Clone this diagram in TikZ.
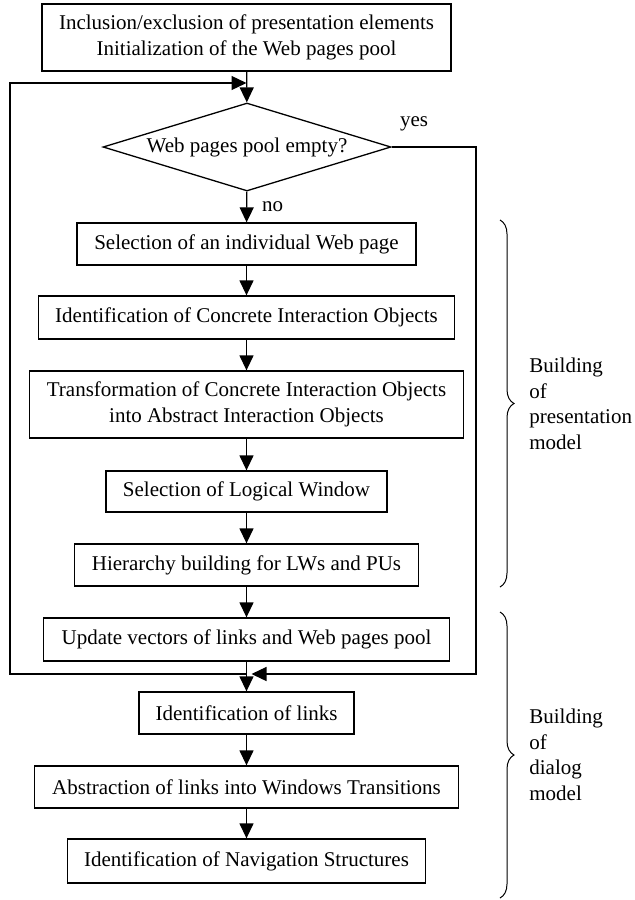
\documentclass[tikz,border=0pt]{standalone}
\usepackage{fontspec}
\setmainfont{Liberation Serif}
\usetikzlibrary{arrows.meta, shapes.geometric, decorations.pathreplacing}

\begin{document}
\begin{tikzpicture}[
    x=0.5pt, y=-0.5pt,
    font=\fontsize{10.5}{12.75}\selectfont,
    stage/.style={rectangle, draw, line width=0.65pt, inner sep=0pt, align=center},
    decision/.style={diamond, draw, line width=0.65pt, inner sep=0pt, aspect=3.27},
    flow/.style={-{Triangle[length=7.5pt, width=7pt]}, line width=0.65pt},
    wire/.style={line width=0.65pt},
    curly/.style={decorate, decoration={brace, amplitude=7pt}, line width=0.5pt},
    phase/.style={align=left, anchor=west, inner sep=0pt}
]
\useasboundingbox (0,0) rectangle (634,900);

% Initial step and loop test
\node[stage, minimum width=204.5pt, minimum height=33.5pt] (init) at (246.5, 37.5)
    {Inclusion/exclusion of presentation elements\\Initialization of the Web pages pool};
\node[decision, minimum width=144pt, minimum height=44pt] (empty) at (247, 147)
    {Web pages pool empty?};

% Presentation model steps
\node[stage, minimum width=169.5pt, minimum height=21pt] (selpage) at (246.5, 244)
    {Selection of an individual Web page};
\node[stage, minimum width=208pt, minimum height=21.5pt] (identcio) at (246.5, 317.5)
    {Identification of Concrete Interaction Objects};
\node[stage, minimum width=217pt, minimum height=33.5pt] (transf) at (246.5, 404.5)
    {Transformation of Concrete Interaction Objects\\into Abstract Interaction Objects};
\node[stage, minimum width=140.5pt, minimum height=20.5pt] (sellw) at (246.5, 491.5)
    {Selection of Logical Window};
\node[stage, minimum width=172pt, minimum height=21pt] (hier) at (246.5, 565)
    {Hierarchy building for LWs and PUs};
\node[stage, minimum width=203pt, minimum height=21.5pt] (update) at (246.5, 639.5)
    {Update vectors of links and Web pages pool};

% Dialog model steps
\node[stage, minimum width=107.5pt, minimum height=21pt] (links) at (246.5, 713)
    {Identification of links};
\node[stage, minimum width=212pt, minimum height=21pt] (abstr) at (246.5, 787)
    {Abstraction of links into Windows Transitions};
\node[stage, minimum width=179pt, minimum height=22pt] (navig) at (246.5, 861)
    {Identification of Navigation Structures};

% Corners of the loop and of the yes branch
\coordinate (looptop) at (10, 83);
\coordinate (loopbot) at (10, 674);
\coordinate (yestop) at (476, 147);
\coordinate (yesbot) at (476, 674);

% Main flow
\draw[flow] (init) -- (empty);
\draw[flow] (empty) -- node[right, xshift=4pt] (no) {no} (selpage);
\draw[flow] (selpage) -- (identcio);
\draw[flow] (identcio) -- (transf);
\draw[flow] (transf) -- (sellw);
\draw[flow] (sellw) -- (hier);
\draw[flow] (hier) -- (update);
\draw[flow] (update) -- (links);
\draw[flow] (links) -- (abstr);
\draw[flow] (abstr) -- (navig);

% Back to the test
\draw[flow] (update.south |- loopbot) -- (loopbot) -- (looptop) -- (init.south |- looptop);

% Pool empty
\draw[flow] (empty.east) -- (yestop) -- (yesbot) -- ([xshift=2.5pt]links.north |- yesbot);
\node (yes) at (414, 124) {yes};

% Braces and their labels
\coordinate (presa) at (500, 220);
\coordinate (presb) at (500, 587);
\coordinate (diala) at (500, 612);
\coordinate (dialb) at (500, 898);
\draw[curly] (presa) -- (presb);
\draw[curly] (diala) -- (dialb);
\node[phase] (presname) at (529, 404) {Building\\of\\presentation\\model};
\node[phase] (dialname) at (529, 755) {Building\\of\\dialog\\model};

\end{tikzpicture}
\end{document}
